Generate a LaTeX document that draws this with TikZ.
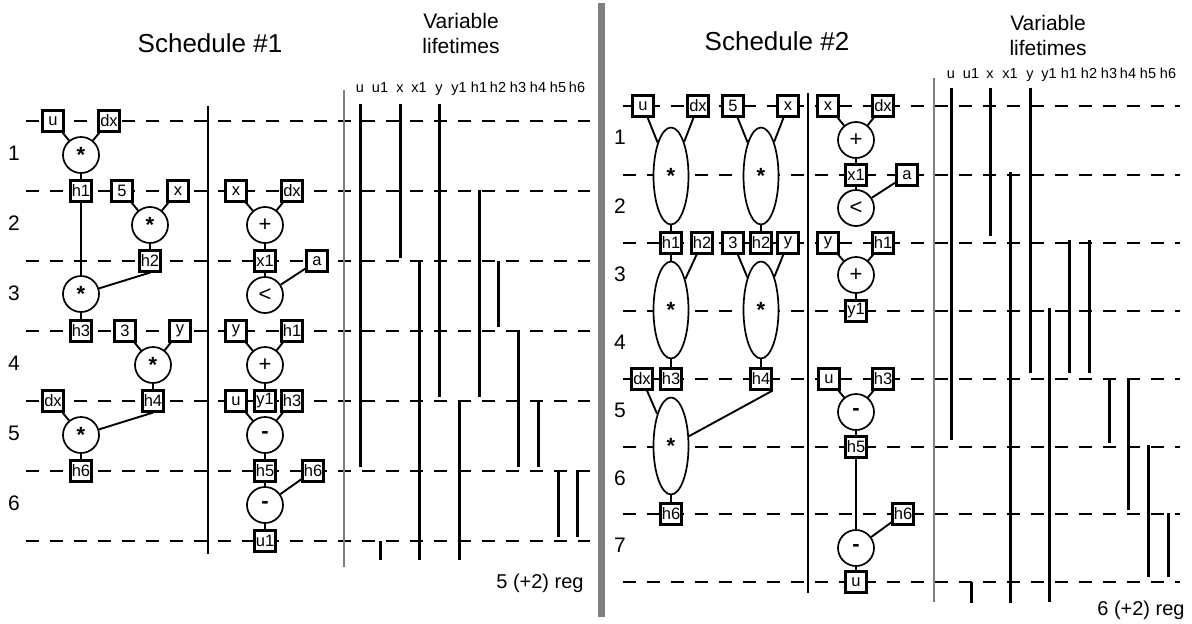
\documentclass[tikz,border=0pt]{standalone}
\usepackage{fontspec}
\setmainfont{Liberation Sans}
\usetikzlibrary{shapes.geometric}
\begin{document}
\begin{tikzpicture}[x=1pt,y=-1pt,
  vbox/.style={draw, line width=2.2pt, fill=white, minimum width=21pt, minimum height=21pt, inner sep=1pt, font=\fontsize{16.5}{16.5}\selectfont},
  op/.style={draw, circle, line width=1.7pt, fill=white, minimum size=36pt, inner sep=0pt, font=\fontsize{22}{22}\selectfont},
  opE/.style={draw, ellipse, line width=1.7pt, fill=white, minimum width=35pt, minimum height=97pt, inner sep=0pt, font=\bfseries\fontsize{22}{22}\selectfont},
  cn/.style={line width=1.9pt},
  cycleline/.style={line width=1.1pt, dash pattern=on 13pt off 11pt},
  life/.style={line width=3pt},
  sepline/.style={line width=1.2pt},
  graysep/.style={line width=2.4pt, draw=black!50},
  rownum/.style={font=\fontsize{21}{21}\selectfont},
  collab/.style={font=\fontsize{14.5}{14.5}\selectfont, anchor=base, inner sep=0pt},
  title/.style={font=\fontsize{26}{30}\selectfont},
  vtitle/.style={font=\fontsize{21}{25}\selectfont, align=center},
  regtxt/.style={font=\fontsize{20}{20}\selectfont}
]
\useasboundingbox (0,0) rectangle (1192,624);
\fill[white] (0,0) rectangle (1192,624);

% ---------- big divider ----------
\fill[black!50] (598,3) rectangle (605,617);

% ---------- titles ----------
\node[title] (t1) at (210,43) {Schedule \#1};
\node[vtitle] (v1) at (461,33) {Variable\\lifetimes};
\node[title] (t2) at (777,41) {Schedule \#2};
\node[vtitle] (v2) at (1048,35) {Variable\\lifetimes};

% ---------- dashed cycle lines ----------
\foreach \y in {121,191,261,331,401,471,541}
  \draw[cycleline] (26,\y) -- (590,\y);
\foreach \y in {106,175,243,311,379,447,514,582}
  \draw[cycleline] (623,\y) -- (1180,\y);

% ---------- separators ----------
\draw[sepline] (208,106) -- (208,554);
\draw[sepline] (808,93) -- (808,593);
\draw[graysep] (344,90) -- (344,567);
\draw[graysep] (934,78) -- (934,602);

% ---------- row numbers ----------
\foreach \n/\y in {1/153,2/223,3/293,4/363,5/433,6/503}
  \node[rownum] (ra\n) at (14,\y) {\n};
\foreach \n/\y in {1/137,2/206,3/274,4/342,5/410,6/478,7/545}
  \node[rownum] (rb\n) at (620,\y) {\n};

% ---------- schedule 1, left ----------
\node[vbox] (Au)  at (53,121) {u};
\node[vbox] (Adx) at (109,121) {dx};
\node[op]   (Am1) at (81,155) {\bfseries *};
\node[vbox] (Ah1) at (81,191) {h1};
\node[vbox] (A5)  at (122,191) {5};
\node[vbox] (Ax)  at (178,191) {x};
\node[op]   (Am2) at (150,225) {\bfseries *};
\node[vbox] (Ah2) at (150,261) {h2};
\node[op]   (Am3) at (81,294) {\bfseries *};
\node[vbox] (Ah3) at (81,331) {h3};
\node[vbox] (A3)  at (125,331) {3};
\node[vbox] (Ay)  at (180,331) {y};
\node[op]   (Am4) at (153,365) {\bfseries *};
\node[vbox] (Adx2) at (53,401) {dx};
\node[vbox] (Ah4) at (153,401) {h4};
\node[op]   (Am5) at (81,435) {\bfseries *};
\node[vbox] (Ah6) at (81,471) {h6};

\draw[cn] (Au) -- (Am1);
\draw[cn] (Adx) -- (Am1);
\draw[cn] (Am1) -- (Ah1);
\draw[cn] (Ah1) -- (Am3);
\draw[cn] (A5) -- (Am2);
\draw[cn] (Ax) -- (Am2);
\draw[cn] (Am2) -- (Ah2);
\draw[cn] (Ah2.south) -- (Am3);
\draw[cn] (Am3) -- (Ah3);
\draw[cn] (A3) -- (Am4);
\draw[cn] (Ay) -- (Am4);
\draw[cn] (Am4) -- (Ah4);
\draw[cn] (Ah4.south) -- (Am5);
\draw[cn] (Adx2) -- (Am5);
\draw[cn] (Am5) -- (Ah6);

% ---------- schedule 1, right ----------
\node[vbox] (Bx)  at (236,191) {x};
\node[vbox] (Bdx) at (292,191) {dx};
\node[op]   (Bp1) at (265,225) {+};
\node[vbox] (Bx1) at (265,261) {x1};
\node[vbox] (Ba)  at (317,261) {a};
\node[op]   (Blt) at (265,295) {<};
\node[vbox] (By)  at (236,331) {y};
\node[vbox] (Bh1) at (292,331) {h1};
\node[op]   (Bp2) at (265,365) {+};
\node[vbox] (Bu)  at (236,401) {u};
\node[vbox] (By1) at (265,401) {y1};
\node[vbox] (Bh3) at (292,401) {h3};
\node[op]   (Bs1) at (265,435) {\bfseries -};
\node[vbox] (Bh5) at (265,471) {h5};
\node[vbox] (Bh6) at (313,471) {h6};
\node[op]   (Bs2) at (265,505) {\bfseries -};
\node[vbox] (Bu1) at (265,541) {u1};

\draw[cn] (Bx) -- (Bp1);
\draw[cn] (Bdx) -- (Bp1);
\draw[cn] (Bp1) -- (Bx1);
\draw[cn] (Bx1) -- (Blt);
\draw[cn] (Ba) -- (Blt);
\draw[cn] (By) -- (Bp2);
\draw[cn] (Bh1) -- (Bp2);
\draw[cn] (Bp2) -- (By1);
\draw[cn] (Bu) -- (Bs1);
\draw[cn] (Bh3) -- (Bs1);
\draw[cn] (Bs1) -- (Bh5);
\draw[cn] (Bh5) -- (Bs2);
\draw[cn] (Bh6) -- (Bs2);
\draw[cn] (Bs2) -- (Bu1);

% ---------- schedule 1 lifetimes ----------
\foreach \n/\x [count=\i from 0] in {u/360,u1/380,x/400,x1/419,y/439,y1/459,h1/479,h2/498,h3/518,h4/538,h5/558,h6/577}
  \node[collab] (la\i) at (\x,92) {\n};
\foreach \x/\a/\b in {360/104/467, 380/541/560, 400/104/258, 419/261/560, 439/104/397, 459/401/560,
                      479/190/397, 498/261/327, 518/330/467, 538/401/467, 558/470/537, 577/470/537}
  \draw[life] (\x,\a) -- (\x,\b);
\node[regtxt] (reg1) at (540,583) {5 (+2) reg};

% ---------- schedule 2, left ----------
\node[vbox] (Cu)  at (643,106) {u};
\node[vbox] (Cdx) at (698,106) {dx};
\node[vbox] (C5)  at (733,106) {5};
\node[vbox] (Cx)  at (788,106) {x};
\node[opE]  (CE1) at (671,176) {*};
\node[opE]  (CE2) at (761,176) {*};
\node[vbox] (Ch1) at (671,243) {h1};
\node[vbox] (Ch2) at (702,243) {h2};
\node[vbox] (C3)  at (733,243) {3};
\node[vbox] (Ch2b) at (761,243) {h2};
\node[vbox] (Cy)  at (788,243) {y};
\node[opE]  (CE3) at (671,310) {*};
\node[opE]  (CE4) at (761,310) {*};
\node[vbox] (Cdx2) at (642,379) {dx};
\node[vbox] (Ch3) at (671,379) {h3};
\node[vbox] (Ch4) at (761,379) {h4};
\node[opE]  (CE5) at (671,446) {*};
\node[vbox] (Ch6) at (671,514) {h6};

\draw[cn] (Cu) -- (CE1);
\draw[cn] (Cdx) -- (CE1);
\draw[cn] (C5) -- (CE2);
\draw[cn] (Cx) -- (CE2);
\draw[cn] (CE1) -- (Ch1);
\draw[cn] (CE2) -- (Ch2b);
\draw[cn] (Ch1) -- (CE3);
\draw[cn] (Ch2) -- (CE3);
\draw[cn] (C3) -- (CE4);
\draw[cn] (Cy) -- (CE4);
\draw[cn] (CE3) -- (Ch3);
\draw[cn] (CE4) -- (Ch4);
\draw[cn] (Cdx2) -- (CE5);
\draw[cn] (Ch4.south east) -- (CE5);
\draw[cn] (CE5) -- (Ch6);

% ---------- schedule 2, right ----------
\node[vbox] (Dx)  at (828,106) {x};
\node[vbox] (Ddx) at (883,106) {dx};
\node[op]   (Dp1) at (856,140) {+};
\node[vbox] (Dx1) at (856,175) {x1};
\node[vbox] (Da)  at (907,175) {a};
\node[op]   (Dlt) at (856,208) {<};
\node[vbox] (Dy)  at (828,243) {y};
\node[vbox] (Dh1) at (883,243) {h1};
\node[op]   (Dp2) at (856,275) {+};
\node[vbox] (Dy1) at (856,311) {y1};
\node[vbox] (Du)  at (829,379) {u};
\node[vbox] (Dh3) at (883,379) {h3};
\node[op]   (Ds1) at (856,412) {\bfseries -};
\node[vbox] (Dh5) at (856,447) {h5};
\node[vbox] (Dh6) at (903,514) {h6};
\node[op]   (Ds2) at (856,548) {\bfseries -};
\node[vbox] (Du2) at (856,582) {u};

\draw[cn] (Dx) -- (Dp1);
\draw[cn] (Ddx) -- (Dp1);
\draw[cn] (Dp1) -- (Dx1);
\draw[cn] (Dx1) -- (Dlt);
\draw[cn] (Da) -- (Dlt);
\draw[cn] (Dy) -- (Dp2);
\draw[cn] (Dh1) -- (Dp2);
\draw[cn] (Dp2) -- (Dy1);
\draw[cn] (Du) -- (Ds1);
\draw[cn] (Dh3) -- (Ds1);
\draw[cn] (Ds1) -- (Dh5);
\draw[cn] (Dh5) -- (Ds2);
\draw[cn] (Dh6) -- (Ds2);
\draw[cn] (Ds2) -- (Du2);

% ---------- schedule 2 lifetimes ----------
\foreach \n/\x [count=\i from 0] in {u/951,u1/971,x/990,x1/1010,y/1030,y1/1049,h1/1069,h2/1089,h3/1109,h4/1128,h5/1148,h6/1168}
  \node[collab] (lb\i) at (\x,78) {\n};
\foreach \x/\a/\b in {951/88/440, 971/582/603, 990/88/236, 1010/172/603, 1030/88/373, 1049/308/602,
                      1069/240/373, 1089/240/373, 1109/378/443, 1128/378/510, 1148/445/577, 1168/513/577}
  \draw[life] (\x,\a) -- (\x,\b);
\node[regtxt] (reg2) at (1141,610) {6 (+2) reg};
\end{tikzpicture}
\end{document}
